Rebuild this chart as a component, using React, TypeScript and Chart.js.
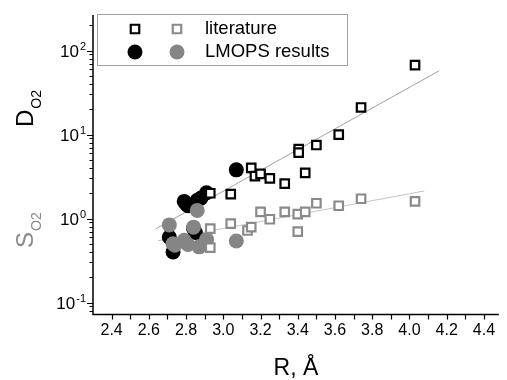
import { useEffect, useRef } from 'react';
import { Chart, registerables } from 'chart.js';
Chart.register(...registerables);

// ---- data (R in Å, values on log axis) ----
const litDR = [2.93, 3.04, 3.15, 3.17, 3.2, 3.25, 3.33, 3.405, 3.405, 3.44, 3.5, 3.62, 3.74, 4.03];
const litD = [2.0, 1.95, 4.0, 3.2, 3.4, 3.0, 2.6, 6.7, 6.1, 3.5, 7.5, 10.0, 21.0, 67];
const litSR = [2.93, 2.93, 3.04, 3.13, 3.15, 3.2, 3.25, 3.33, 3.4, 3.4, 3.44, 3.5, 3.62, 3.74, 4.03];
const litS = [0.76, 0.45, 0.87, 0.72, 0.79, 1.2, 0.98, 1.2, 1.13, 0.7, 1.2, 1.52, 1.42, 1.72, 1.6];
const lmopsDR = [2.71, 2.73, 2.79, 2.8, 2.81, 2.84, 2.85, 2.86, 2.88, 2.91, 3.07];
const lmopsD = [0.6, 0.4, 1.6, 1.5, 1.42, 0.76, 0.68, 1.65, 1.75, 2.03, 3.8];
const lmopsSR = [2.71, 2.73, 2.74, 2.79, 2.81, 2.84, 2.86, 2.87, 2.91, 3.07];
const lmopsS = [0.84, 0.5, 0.48, 0.55, 0.49, 0.79, 1.25, 0.46, 0.56, 0.54];
const fitDR = [2.64, 4.16];
const fitD = [0.76, 57.5];
const fitSR = [2.65, 4.08];
const fitS = [0.544, 2.13];

const xTickLabels = ['2.4', '2.6', '2.8', '3.0', '3.2', '3.4', '3.6', '3.8', '4.0', '4.2', '4.4'];
const yTickValues = [0.1, 1, 10, 100];
const yTickExps = ['-1', '0', '1', '2'];
const legendLabels = ['literature', 'LMOPS results'];
const xTitle = 'R, Å';
const yTitleD = ['D', 'O2'];
const yTitleS = ['S', 'O2'];

const FONT = "'Liberation Sans', Arial, sans-serif";
const GRAY_SQ = '#8a8a8a';
const GRAY_CI = '#858585';

const pts = (xs: number[], ys: number[]) => xs.map((x, i) => ({ x, y: ys[i] }));

function drawSquare(ctx: CanvasRenderingContext2D, x: number, y: number, color: string) {
  const s = 6 * Math.SQRT1_2;
  ctx.save();
  ctx.fillStyle = '#fff';
  ctx.strokeStyle = color;
  ctx.lineWidth = 2.2;
  ctx.beginPath();
  ctx.rect(x - s, y - s, 2 * s, 2 * s);
  ctx.fill();
  ctx.stroke();
  ctx.restore();
}
function drawCircle(ctx: CanvasRenderingContext2D, x: number, y: number, color: string) {
  ctx.save();
  ctx.fillStyle = color;
  ctx.beginPath();
  ctx.arc(x, y, 7.5, 0, Math.PI * 2);
  ctx.fill();
  ctx.restore();
}

const overlay = {
  id: 'overlay',
  afterDraw(chart: any) {
    const ctx: CanvasRenderingContext2D = chart.ctx;
    const { left, right, top, bottom } = chart.chartArea;
    const xs = chart.scales.x;
    const ys = chart.scales.y;
    ctx.save();
    // axes
    ctx.strokeStyle = '#000';
    ctx.lineWidth = 1.5;
    ctx.beginPath();
    ctx.moveTo(left, top);
    ctx.lineTo(left, bottom);
    ctx.lineTo(right, bottom);
    ctx.stroke();
    // x ticks
    ctx.lineWidth = 1.2;
    ctx.beginPath();
    const x0 = parseFloat(xTickLabels[0]);
    const x1 = parseFloat(xTickLabels[xTickLabels.length - 1]);
    for (let v = x0; v <= x1 + 1e-6; v += 0.1) {
      const px = Math.round(xs.getPixelForValue(v)) + 0.5;
      ctx.moveTo(px, bottom);
      ctx.lineTo(px, bottom + 5);
    }
    ctx.stroke();
    // y ticks
    ctx.beginPath();
    for (let e = -2; e <= 3; e++) {
      for (let k = 1; k <= 9; k++) {
        const v = k * Math.pow(10, e);
        if (v < ys.min || v > ys.max) continue;
        const py = Math.round(ys.getPixelForValue(v)) + 0.5;
        ctx.moveTo(left, py);
        ctx.lineTo(left - (k === 1 ? 6 : 3.5), py);
      }
    }
    ctx.stroke();
    // x labels
    ctx.fillStyle = '#000';
    ctx.font = `16px ${FONT}`;
    ctx.textAlign = 'center';
    ctx.textBaseline = 'alphabetic';
    xTickLabels.forEach((l) => {
      ctx.fillText(l, xs.getPixelForValue(parseFloat(l)), bottom + 20);
    });
    // y labels
    yTickValues.forEach((v, i) => {
      const py = ys.getPixelForValue(v);
      ctx.font = `11px ${FONT}`;
      ctx.textAlign = 'right';
      const ew = ctx.measureText(yTickExps[i]).width;
      ctx.fillText(yTickExps[i], left - 7, py - 1);
      ctx.font = `17px ${FONT}`;
      ctx.fillText('10', left - 8 - ew, py + 6);
    });
    // x title
    ctx.font = `23px ${FONT}`;
    ctx.textAlign = 'center';
    ctx.fillText(xTitle, (left + right) / 2 - 0, 375);
    // y titles (rotated)
    const drawYTitle = (parts: string[], yStart: number, color: string) => {
      ctx.save();
      ctx.translate(33, yStart);
      ctx.rotate(-Math.PI / 2);
      ctx.fillStyle = color;
      ctx.textAlign = 'left';
      ctx.font = `24px ${FONT}`;
      ctx.fillText(parts[0], 0, 0);
      const w = ctx.measureText(parts[0]).width;
      ctx.font = `14px ${FONT}`;
      ctx.fillText(parts[1], w + 1, 8);
      ctx.restore();
    };
    drawYTitle(yTitleD, 127, '#000');
    drawYTitle(yTitleS, 248, '#8a8a8a');
    // legend
    ctx.fillStyle = '#fff';
    ctx.strokeStyle = '#a0a0a0';
    ctx.lineWidth = 1;
    ctx.fillRect(97, 14, 250, 51);
    ctx.strokeRect(97.5, 14.5, 250, 51);
    drawSquare(ctx, 135, 29, '#000');
    drawSquare(ctx, 177, 29, GRAY_SQ);
    drawCircle(ctx, 135, 52, '#000');
    drawCircle(ctx, 177, 52, GRAY_CI);
    ctx.fillStyle = '#000';
    ctx.font = `18.5px ${FONT}`;
    ctx.textAlign = 'left';
    ctx.textBaseline = 'middle';
    ctx.fillText(legendLabels[0], 205, 29);
    ctx.fillText(legendLabels[1], 205, 52);
    ctx.restore();
  },
};

export default function App() {
  const ref = useRef<HTMLCanvasElement>(null);
  useEffect(() => {
    document.body.style.margin = '0';
    const chart = new Chart(ref.current as HTMLCanvasElement, {
      type: 'scatter',
      data: {
        datasets: [
          {
            label: 'lit S',
            data: pts(litSR, litS),
            pointStyle: 'rect',
            pointRadius: 6,
            borderColor: GRAY_SQ,
            backgroundColor: '#fff',
            borderWidth: 2.2,
          },
          {
            label: 'lit D',
            data: pts(litDR, litD),
            pointStyle: 'rect',
            pointRadius: 6,
            borderColor: '#000',
            backgroundColor: '#fff',
            borderWidth: 2.2,
          },
          {
            label: 'LMOPS S',
            data: pts(lmopsSR, lmopsS),
            pointStyle: 'circle',
            pointRadius: 7.5,
            borderWidth: 0,
            backgroundColor: GRAY_CI,
            borderColor: GRAY_CI,
          },
          {
            label: 'LMOPS D',
            data: pts(lmopsDR, lmopsD),
            pointStyle: 'circle',
            pointRadius: 7.5,
            borderWidth: 0,
            backgroundColor: '#000',
            borderColor: '#000',
          },
          {
            label: 'fit D',
            data: pts(fitDR, fitD),
            showLine: true,
            pointRadius: 0,
            borderColor: '#a0a0a0',
            borderWidth: 1,
          },
          {
            label: 'fit S',
            data: pts(fitSR, fitS),
            showLine: true,
            pointRadius: 0,
            borderColor: '#c4c4c4',
            borderWidth: 1,
          },
        ],
      },
      options: {
        animation: false,
        responsive: false,
        devicePixelRatio: 1,
        layout: { padding: { left: 93, right: 5, top: 15, bottom: 65.5 } },
        plugins: { legend: { display: false }, tooltip: { enabled: false } },
        scales: {
          x: {
            type: 'linear',
            min: 2.3,
            max: 4.48,
            bounds: 'data',
            grid: { display: false, drawTicks: false },
            border: { display: false },
            ticks: { display: false, padding: 0 },
          },
          y: {
            type: 'logarithmic',
            min: 0.072,
            max: 265,
            bounds: 'data',
            grid: { display: false, drawTicks: false },
            border: { display: false },
            ticks: { display: false, padding: 0 },
          },
        },
      },
      plugins: [overlay],
    } as any);
    return () => chart.destroy();
  }, []);
  return (
    <div style={{ width: 507, height: 380 }}>
      <canvas ref={ref} width={507} height={380} style={{ display: 'block', width: 507, height: 380 }} />
    </div>
  );
}
